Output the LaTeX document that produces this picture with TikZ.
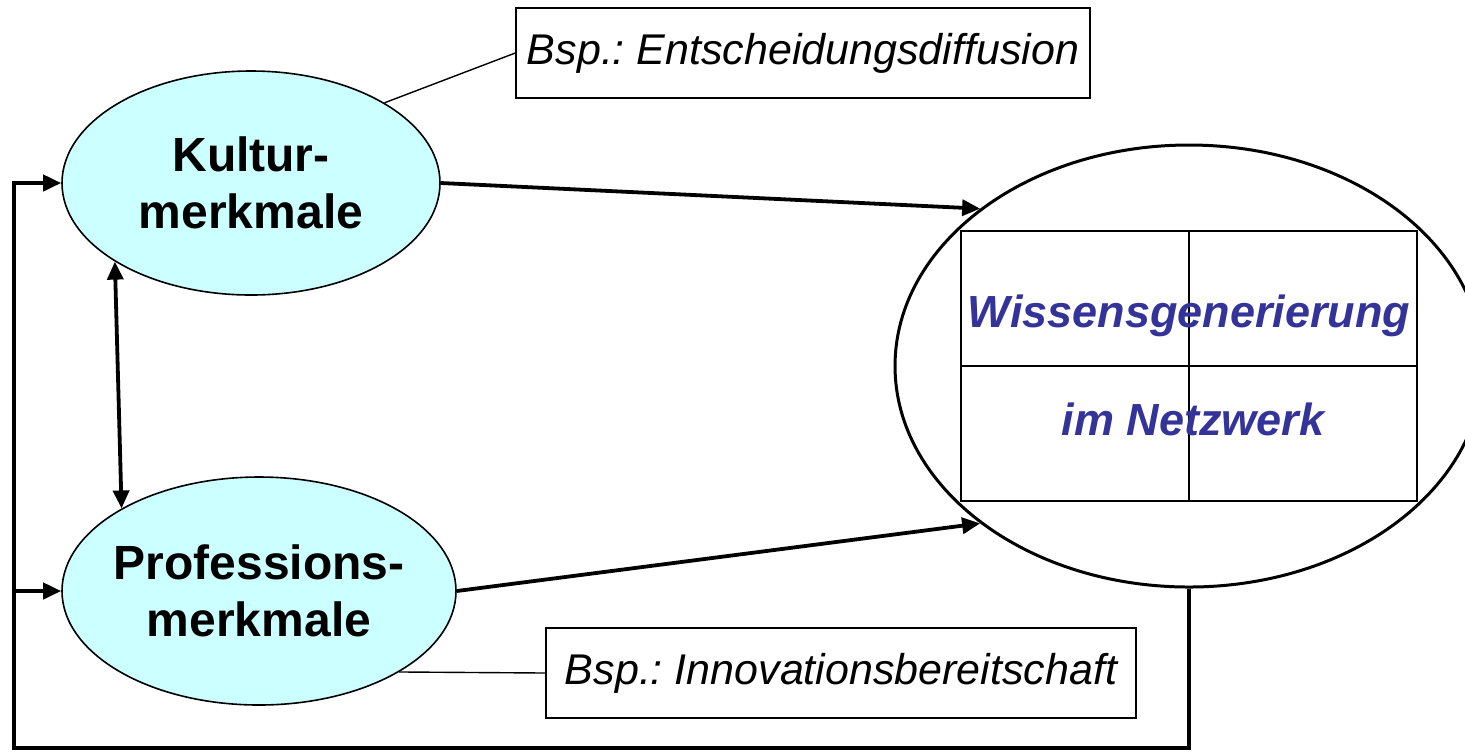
\documentclass[tikz,border=0pt]{standalone}
\usepackage{fontspec}
\setmainfont{Liberation Sans}
\usetikzlibrary{shapes.geometric,arrows.meta}
\definecolor{cellcyan}{HTML}{CCFFFF}
\definecolor{netblue}{HTML}{333399}
\frenchspacing

\begin{document}
\begin{tikzpicture}[x=0.5pt, y=-0.5pt,
    main/.style = {draw, ellipse, fill=cellcyan, line width=0.8pt, inner sep=0pt, inner xsep=-4pt, minimum width=189pt, minimum height=112pt, align=center, font=\fontsize{24}{28.5}\selectfont\bfseries},
    net/.style = {text=netblue, inner sep=0pt, anchor=base, font=\fontsize{22.5}{27}\selectfont\bfseries\itshape},
    note/.style = {draw, line width=0.75pt, minimum height=45pt, font=\fontsize{21.5}{26}\selectfont\itshape},
    link/.style = {line width=1.9pt, -{Triangle[length=9pt,width=8pt]}},
    back/.style = {line width=2pt, -{Triangle[length=9pt,width=8pt]}}]
    \useasboundingbox (0,0) rectangle (1465,752);
    \node[main] (1) at (251,183) {Kultur-\\merkmale};
    \node[main, minimum width=197pt, minimum height=114pt] (2) at (259,591) {Professions-\\merkmale};
    \node[draw, ellipse, line width=1.5pt, minimum width=294pt, minimum height=221pt] (3) at (1189,366) {};
    \node[note, minimum width=287pt] (4) at (803,53) {Bsp.: Entscheidungsdiffusion};
    \node[note, minimum width=295pt] (5) at (841,673) {Bsp.: Innovationsbereitschaft};
    % Raster im Netzwerk
    \node[draw, line width=1pt, minimum width=228pt, minimum height=135pt] (6) at (1189,366) {};
    \draw[line width=1pt] (6.north) -- (6.south) (6.west) -- (6.east);
    \node[net] (7) at (1189,327) {Wissensgenerierung};
    \node[net] (8) at (1193,435) {im Netzwerk};
    \draw[line width=0.7pt] (1.31) -- (4.west);
    \draw[line width=0.7pt] (2.330) -- (5.west);
    \draw[link] (1.east) -- (3.143);
    \draw[link] (2.east) -- (3.217);
    \draw[link, {Triangle[length=9pt,width=8pt]}-{Triangle[length=9pt,width=8pt]}] (1.210) -- (2.149);
    % Rueckkopplung
    \coordinate (9) at (14,748);
    \draw[back] (3.south) |- (9) |- (1.west);
    \draw[back] (2.west -| 9) -- (2.west);
\end{tikzpicture}
\end{document}
